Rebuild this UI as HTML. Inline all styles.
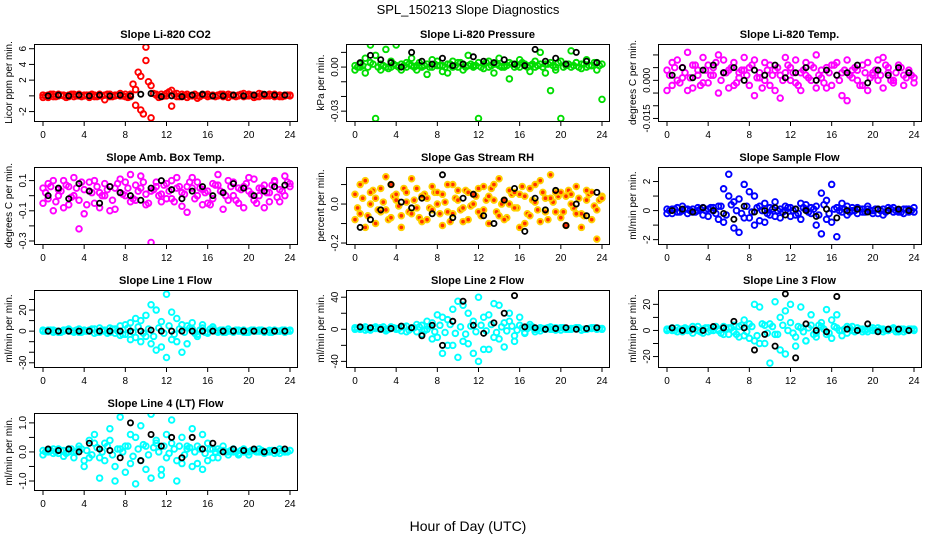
<!DOCTYPE html>
<html><head><meta charset="utf-8"><style>
html,body{margin:0;padding:0;background:#fff;}
svg{display:block;font-family:"Liberation Sans",Arial,sans-serif;}
</style></head><body>
<svg id="chart" width="936" height="540" viewBox="0 0 936 540" xmlns="http://www.w3.org/2000/svg">
<text x="468" y="14" font-size="13" text-anchor="middle">SPL_150213  Slope Diagnostics</text>
<text x="468" y="531" font-size="14" text-anchor="middle">Hour of Day (UTC)</text>
</svg>
<script>
const hours = [0,0.5,1,1.5,2,2.5,3,3.5,4,4.5,5,5.5,6,6.5,7,7.5,8,8.5,9,9.5,10,10.5,11,11.5,12,12.5,13,13.5,14,14.5,15,15.5,16,16.5,17,17.5,18,18.5,19,19.5,20,20.5,21,21.5,22,22.5,23,23.5,24];
const bandHours = [0.25,0.75,1.25,1.75,2.25,2.75,3.25,3.75,4.25,4.75,5.25,5.75,6.25,6.75,7.25,7.75,8.25,8.75,9.25,9.75,10.25,10.75,11.25,11.75,12.25,12.75,13.25,13.75,14.25,14.75,15.25,15.75,16.25,16.75,17.25,17.75,18.25,18.75,19.25,19.75,20.25,20.75,21.25,21.75,22.25,22.75,23.25,23.75];
const blackHours = [0.5,1.5,2.5,3.5,4.5,5.5,6.5,7.5,8.5,9.5,10.5,11.5,12.5,13.5,14.5,15.5,16.5,17.5,18.5,19.5,20.5,21.5,22.5,23.5];
const xTicks = [0,4,8,12,16,20,24];
const titles = ["Slope Li-820 CO2","Slope Li-820 Pressure","Slope Li-820 Temp.","Slope Amb. Box Temp.","Slope Gas Stream RH","Slope Sample Flow","Slope Line 1 Flow","Slope Line 2 Flow","Slope Line 3 Flow","Slope Line 4 (LT) Flow"];
const yTitles = ["Licor ppm per min.","kPa per min.","degrees C per min.","degrees C per min.","percent per min.","ml/min per min.","ml/min per min.","ml/min per min.","ml/min per min.","ml/min per min."];
const colors = ["#ff0000","#00dd00","#ff00ff","#ff00ff","#ffd000","#0000ff","#00ffff","#00ffff","#00ffff","#00ffff"];
const yRanges = [[-3.2,6.6],[-0.0367,0.0157],[-0.016,0.0143],[-0.32,0.19],[-0.205,0.19],[-2.3,3.0],[-34,39],[-47,49],[-28,31],[-1.31,1.34]];
const yTicks = [[-2,0,2,4,6],[-0.03,-0.02,-0.01,0,0.01],[-0.015,-0.01,-0.005,0,0.005,0.01],[-0.3,-0.2,-0.1,0,0.1],[-0.2,-0.1,0,0.1],[-2,-1,0,1,2],[-30,-20,-10,0,10,20,30],[-40,-20,0,20,40],[-20,-10,0,10,20],[-1,-0.5,0,0.5,1]];
const yTickLabels = [["-2","","2","4","6"],["-0.03","","","0.00",""],["-0.015","","","0.000","",""],["-0.3","","-0.1","","0.1"],["-0.2","","0.0",""],["-2","","0","","2"],["-30","","","0","","20",""],["-40","","0","","40"],["-20","","0","","20"],["-1.0","","0.0","","1.0"]];

const seriesA1=[0.1,-0.2,0.2,0,0.1,-0.1,0.2,0,0.1,-0.2,0.1,0,-0.5,0.2,0.1,0,0.2,-0.1,0.8,2.5,6.2,1.3,0.1,0.2,0,0.7,0.3,-0.1,0.2,0,-0.3,0.1,0.2,0,0.1,-0.1,0.2,0,0.1,0.3,0,-0.2,0.3,0.1,0,0.2,-0.1,0.1,0];
const seriesB1=[-0.2,0.1,-0.1,0.2,0,0.1,-0.1,0.2,0,0.1,-0.1,0.2,0.1,-0.1,0,0.3,-0.1,0.2,-1.2,-1.8,4.5,-2.8,0.2,-0.1,0.3,-1.3,-0.1,0.2,-0.2,0.1,0,0.2,-0.1,0.1,0,0.2,-0.2,0.1,0,-0.1,0.2,0.1,-0.1,0,0.2,-0.1,0.1,0,0.1];
const seriesC1=[0,0.2,-0.1,0.1,-0.2,0.2,0,-0.1,0.1,0.2,-0.1,0,0.2,-0.1,0.1,0,-0.2,1.5,3.0,-2.3,1.8,0.3,-0.2,0,0.5,0.2,-0.1,0.1,0,0.2,-0.1,0.1,0,-0.1,0.2,0,0.1,-0.1,0.2,0,0.1,-0.1,0.2,0,0.1,0,-0.1,0.1];
const seriesK1=[0,0.1,0,0.1,0,0.1,0,0.1,0,0.2,0.3,-0.1,0,-0.1,0.1,0.2,0,0,0.1,0,0.1,0.2,0.1,0.1];
const seriesA2=[0.001,0.002,-0.004,0.003,0.008,0.002,0.0,0.004,0.001,-0.002,0.003,0.006,0.001,0.0,0.002,0.005,0.001,-0.003,0.002,0.004,0.0,0.002,0.008,0.001,0.003,-0.001,0.004,0.002,0.006,0.001,0.003,0.0,0.005,0.002,0.001,0.004,0.010,0.002,0.003,-0.002,0.004,0.001,0.011,0.003,0.002,0.005,0.001,0.003,0.002];
const seriesB2=[-0.002,0.0,0.006,0.015,-0.035,-0.002,0.012,0.0,0.015,0.002,0.0,0.001,-0.002,0.001,-0.005,0.0,0.004,0.001,-0.004,0.0,0.003,-0.002,0.001,0.0,-0.035,0.002,0.0,-0.004,0.001,0.0,-0.008,0.002,0.0,0.001,-0.003,0.0,0.002,-0.004,-0.016,0.0,-0.035,0.002,0.0,0.003,-0.001,0.0,0.001,-0.002,-0.022];
const seriesC2=[0.0,0.001,0.0,0.002,0.0,0.001,-0.001,0.002,0.0,0.001,0.002,0.0,0.003,0.001,0.0,0.002,0.001,0.0,0.002,0.001,0.003,0.0,0.002,0.001,0.0,0.003,0.001,0.002,0.0,0.001,0.002,0.001,0.003,0.0,0.002,0.001,0.0,0.002,0.001,0.003,0.0,0.002,0.001,0.0,0.002,0.001,0.003,0.001];
const seriesK2=[0.003,0.008,0.005,0.003,0.0,0.010,0.004,0.002,0.006,0.001,0.002,0.007,0.004,0.003,0.005,0.002,0.001,0.012,0.004,0.006,0.002,0.010,0.004,0.003];
const seriesA3=[0.004,-0.002,0.008,0.001,-0.004,0.006,0.002,0.009,-0.001,0.005,0.010,0.003,-0.003,0.007,0.001,0.004,-0.002,0.008,0.003,0.000,0.006,-0.004,0.002,0.009,0.005,-0.001,0.003,0.007,0.000,0.010,0.004,-0.003,0.006,0.002,-0.006,0.008,0.001,0.004,-0.002,0.007,0.003,0.000,0.009,0.005,-0.001,0.006,0.002,0.004,0.001];
const seriesB3=[-0.004,0.007,0.000,0.005,0.011,-0.003,0.004,-0.001,0.006,0.002,-0.005,0.008,0.004,-0.002,0.003,0.009,0.005,-0.006,0.001,0.007,-0.002,0.004,-0.007,0.003,0.000,0.008,-0.004,0.002,0.006,-0.003,0.001,0.005,-0.002,0.007,0.003,-0.008,0.004,0.000,0.006,-0.004,0.002,0.008,-0.003,0.003,0.000,0.006,-0.002,0.003,-0.001];
const seriesC3=[0.002,0.005,-0.001,0.003,0.001,0.006,-0.002,0.004,0.002,0.007,0.000,0.003,0.005,-0.001,0.004,0.002,0.006,0.001,-0.003,0.004,0.002,0.005,0.000,0.006,0.003,-0.002,0.004,0.001,0.005,0.002,-0.001,0.003,0.006,0.000,0.004,0.002,0.005,-0.002,0.003,0.001,0.004,0.002,0.006,0.000,0.003,0.005,0.001,0.002];
const seriesK3=[0.002,0.005,0.001,0.004,0.006,0.003,0.005,0.000,0.004,0.002,0.006,0.001,0.003,0.005,0.000,0.004,0.002,0.003,0.006,-0.001,0.004,0.002,0.005,0.003];
const seriesA4=[0.05,-0.02,0.1,0.0,-0.08,0.06,0.12,-0.03,0.04,0.09,-0.05,0.02,0.08,-0.1,0.05,0.11,0.0,-0.04,0.07,0.13,-0.06,0.03,0.09,0.01,-0.02,0.1,0.05,-0.07,0.06,0.12,0.0,0.04,-0.05,0.08,0.14,0.02,-0.03,0.09,0.05,-0.08,0.03,0.11,0.0,0.07,-0.04,0.1,0.04,0.13,0.06];
const seriesB4=[-0.05,0.08,-0.1,0.04,0.1,-0.06,0.0,-0.22,-0.12,0.03,0.1,-0.08,0.0,0.06,-0.09,0.02,0.09,0.14,-0.03,0.05,0.01,-0.31,0.06,-0.04,0.08,-0.02,0.12,0.02,-0.11,0.05,0.09,-0.06,0.03,-0.02,0.07,-0.09,0.1,0.0,-0.05,0.06,0.12,-0.03,0.05,-0.08,0.02,0.09,-0.04,0.0,0.08];
const seriesC4=[0.02,0.06,-0.04,0.03,0.07,-0.01,0.05,0.09,-0.06,0.02,0.06,0.0,0.04,-0.03,0.08,0.01,0.05,-0.02,0.03,0.09,-0.05,0.04,0.0,0.07,0.03,-0.04,0.06,0.01,0.09,-0.02,0.05,0.02,-0.06,0.07,0.03,0.0,0.06,-0.03,0.04,0.08,0.01,-0.05,0.05,0.02,0.07,-0.01,0.03,0.09];
const seriesK4=[0.0,0.05,-0.02,0.08,0.03,-0.05,0.06,0.02,0.0,-0.03,0.05,0.1,0.04,-0.02,0.03,0.06,0.0,0.02,0.08,0.05,0.0,0.03,0.06,0.07];
const seriesA5=[0.05,-0.05,0.12,0.0,-0.1,0.08,-0.03,0.1,0.02,-0.06,0.06,0.13,-0.02,0.04,-0.08,0.09,0.0,0.05,-0.04,0.1,0.02,-0.09,0.06,0.0,0.08,-0.03,0.04,0.1,-0.06,0.02,0.07,-0.02,0.05,-0.1,0.08,0.01,0.12,-0.04,0.03,0.06,-0.07,0.04,0.0,0.09,-0.05,0.02,0.06,-0.03,0.04];
const seriesB5=[-0.08,0.1,-0.12,0.06,0.03,-0.04,0.14,-0.07,0.05,-0.12,0.01,-0.05,0.08,-0.09,0.03,-0.03,0.06,-0.11,0.1,-0.05,0.07,-0.02,-0.08,0.05,-0.04,0.09,-0.1,0.02,0.13,-0.08,0.0,0.06,-0.12,0.04,-0.06,0.1,-0.09,0.03,0.15,-0.04,0.06,-0.11,0.05,-0.05,-0.12,0.07,-0.08,-0.18,0.03];
const seriesC5=[-0.02,0.03,-0.06,0.07,-0.03,0.01,-0.08,0.04,-0.01,0.08,-0.04,0.02,-0.07,0.05,-0.02,0.06,-0.05,0.01,-0.09,0.03,-0.03,0.07,-0.01,0.04,-0.06,0.02,0.08,-0.04,0.0,-0.07,0.05,-0.02,0.09,-0.05,0.02,-0.03,0.06,-0.08,0.01,0.04,-0.04,0.07,-0.02,0.03,-0.06,0.05,-0.01,0.02];
const seriesK5=[-0.12,-0.08,-0.03,0.1,0.01,-0.02,0.03,-0.05,0.15,-0.07,0.03,0.05,-0.06,-0.1,0.02,0.08,-0.14,0.03,-0.03,0.07,-0.11,0.0,-0.06,0.06];
const seriesA6=[0.1,-0.2,0.2,0.0,0.1,-0.1,0.2,-0.3,0.1,0.0,0.3,1.5,2.5,-1.2,0.8,1.8,-0.5,1.0,0.3,-0.8,0.2,-0.4,0.1,0.0,0.2,-0.3,0.5,0.1,-0.2,0.3,1.2,-0.6,1.8,0.2,-0.1,0.3,0.0,0.2,-0.1,0.1,0.0,-0.2,0.1,0.2,-0.1,0.0,0.1,-0.1,0.2];
const seriesB6=[-0.2,0.1,-0.1,0.3,-0.2,0.1,0.0,0.2,-0.4,0.2,-0.6,-0.8,1.0,0.6,-1.5,-0.5,1.3,-1.0,-0.7,0.5,-0.3,0.6,-0.5,0.3,-0.4,0.1,-0.6,0.4,0.2,-1.0,-1.6,0.7,-0.8,-1.8,0.5,-0.3,0.2,-0.2,0.1,0.3,-0.2,0.1,-0.3,0.0,0.2,-0.1,-0.2,0.1,-0.1];
const seriesC6=[0.0,0.1,-0.1,0.1,0.0,-0.1,0.1,0.0,0.2,-0.2,0.3,-0.3,0.4,0.0,-0.2,0.3,-0.1,0.2,0.0,-0.2,0.1,0.0,-0.1,0.2,0.0,-0.2,0.2,-0.1,0.1,-0.3,0.4,-0.2,0.1,0.0,0.1,-0.1,0.0,0.1,-0.1,0.0,0.1,0.0,-0.1,0.1,0.0,-0.1,0.1,0.0];
const seriesK6=[0.0,0.1,-0.1,0.2,0.0,-0.2,-0.6,0.3,-0.1,0.0,0.2,-0.3,0.1,0.0,-0.4,0.1,-0.5,0.0,0.1,-0.1,0.1,0.0,0.1,0.0];
const seriesA7=[0,1,-1,0,1,0,-1,2,0,1,-2,3,0,-1,2,5,-3,8,-6,10,15,-12,20,-15,35,-8,12,-20,5,8,-5,3,-2,4,0,-1,2,0,1,-1,0,1,0,-1,1,0,0,1,0];
const seriesB7=[1,0,1,-1,0,2,0,-1,1,0,2,-1,1,3,-2,-4,6,-8,12,-10,-5,25,-18,9,-25,18,-10,6,-12,2,-3,6,-1,2,-1,1,0,-1,0,1,-1,0,1,0,-1,1,0,-1,1];
const seriesC7=[0,1,0,-1,1,0,1,-1,0,2,-1,1,-2,2,0,-3,3,-1,4,-2,2,-5,3,-2,5,-3,2,-1,3,-2,1,-1,2,0,1,-1,0,1,0,-1,1,0,1,0,-1,0,1,0];
const seriesK7=[0,0,0,0,0,0,0,0,0,0,1,0,0,0,0,0,0,0,0,0,0,0,0,0];
const seriesA8=[2,0,3,-1,1,2,0,3,1,-2,4,2,-3,5,0,8,-10,15,-20,25,35,-15,20,-30,40,-25,18,-10,30,-22,10,-8,15,-5,6,-3,2,0,3,-1,2,0,1,2,-1,0,2,1,0];
const seriesB8=[0,2,-1,1,3,0,-2,1,0,3,-3,1,6,-6,10,-12,18,-30,12,-20,-35,30,-18,10,-40,15,-25,32,-12,8,20,-15,5,-4,3,0,-2,1,0,2,-1,1,0,2,-1,0,1,0,1];
const seriesC8=[1,2,0,2,1,3,0,2,1,3,-1,2,3,-2,4,-3,5,-4,6,-5,3,-6,4,-3,5,-2,6,-4,3,-2,4,-1,2,1,3,0,1,2,0,1,2,0,1,2,0,1,2,1];
const seriesK8=[3,2,0,1,4,2,-8,5,-20,10,35,5,-5,8,20,42,3,2,0,1,2,0,1,2];
const seriesA9=[1,0,2,-1,1,3,0,-2,2,0,1,3,-3,4,-5,8,-6,20,18,-10,5,22,-15,15,20,-12,18,-8,12,-5,6,-3,8,12,-4,3,0,2,1,-1,2,0,1,0,2,-1,1,0,1];
const seriesB9=[0,2,-1,1,0,-2,3,1,-1,2,0,-3,2,-1,3,-4,5,-8,-10,4,-25,-3,10,-18,6,-5,2,-8,4,-2,3,16,-6,2,0,-2,3,0,-1,1,0,2,-1,0,1,0,-1,1,0];
const seriesC9=[1,0,1,2,0,1,-1,2,0,3,-2,1,2,-3,4,-1,3,-4,5,-2,3,-3,4,0,-2,3,-1,2,-3,4,1,-2,3,0,1,2,-1,1,0,2,0,1,0,1,-1,1,0,1];
const seriesK9=[2,0,1,0,3,2,7,2,-15,-3,-12,28,-21,5,0,-1,26,1,0,5,-1,1,1,0];
const seriesA10=[0.05,0.0,0.1,-0.05,0.05,0.1,0.0,0.2,-0.3,0.4,0.6,-0.2,0.3,0.8,-0.5,1.2,0.2,-0.4,0.5,0.9,-0.6,1.3,0.3,-0.8,0.6,1.1,-0.3,0.5,0.2,0.8,-0.4,0.6,0.3,-0.2,0.1,0.2,0.0,0.1,-0.1,0.1,0.0,0.05,0.1,0.0,0.05,-0.05,0.1,0.0,0.05];
const seriesB10=[-0.1,0.05,-0.05,0.1,-0.15,0.0,-0.2,0.1,-0.5,-0.2,0.3,-0.9,-0.3,0.4,-1.0,0.1,-0.7,0.6,-1.1,-0.3,0.2,-0.9,0.4,-0.6,-0.2,0.3,-1.0,-0.4,0.1,-0.5,0.2,-0.6,-0.3,0.1,-0.2,0.05,-0.1,0.0,-0.05,0.0,-0.1,0.05,0.0,-0.05,0.0,0.05,-0.05,0.0,0.05];
const seriesC10=[0.0,0.05,0.0,0.05,-0.05,0.1,0.0,0.1,0.05,-0.1,0.15,0.0,0.2,-0.1,0.1,0.0,0.2,-0.15,0.1,0.25,-0.1,0.15,0.0,0.2,-0.05,0.1,0.2,-0.1,0.15,0.0,0.1,-0.05,0.1,0.0,0.05,0.0,0.05,0.0,0.05,0.0,0.05,0.0,0.05,0.0,0.05,0.0,0.05,0.0];
const seriesK10=[0.1,0.05,0.1,0.0,0.3,0.1,0.05,-0.2,1.0,-0.3,0.6,0.2,0.5,-0.2,0.5,0.1,0.3,0.0,0.1,0.05,0.1,0.0,0.05,0.1];

const colA=[seriesA1,seriesA2,seriesA3,seriesA4,seriesA5,seriesA6,seriesA7,seriesA8,seriesA9,seriesA10];
const colB=[seriesB1,seriesB2,seriesB3,seriesB4,seriesB5,seriesB6,seriesB7,seriesB8,seriesB9,seriesB10];
const colC=[seriesC1,seriesC2,seriesC3,seriesC4,seriesC5,seriesC6,seriesC7,seriesC8,seriesC9,seriesC10];
const blk=[seriesK1,seriesK2,seriesK3,seriesK4,seriesK5,seriesK6,seriesK7,seriesK8,seriesK9,seriesK10];

const svg=document.getElementById('chart');
const NS='http://www.w3.org/2000/svg';
function mk(tag,attrs,parent){const e=document.createElementNS(NS,tag);for(const k in attrs)e.setAttribute(k,attrs[k]);(parent||svg).appendChild(e);return e;}
const colX=[34,346,658], rowY=[44,167,290,413], PW=263, PH=77;

for(let p=0;p<10;p++){
  const x0=colX[p%3], y0=rowY[Math.floor(p/3)];
  const g=mk('g',{});
  
  
  const xs=h=>x0+9+h*(247/24);
  const [lo,hi]=yRanges[p];
  const ys=v=>y0+PH-(v-lo)/(hi-lo)*PH;
  const clip=mk('clipPath',{id:'c'+p},g);
  mk('rect',{x:x0,y:y0,width:PW,height:PH},clip);
  const pts=mk('g',{'clip-path':'url(#c'+p+')'},g);
  
  
  const col=colors[p];
  const isRH=p===4;
  const drawCol=(arr,hs)=>{
    arr.forEach((v,i)=>{
      const c=mk('circle',{cx:xs(hs[i]),cy:ys(v),r:2.8,fill:isRH?'#ff3000':'none',stroke:col,'stroke-width':1.9},pts);
      
      
    });
  };
  drawCol(colC[p],bandHours);
  drawCol(colA[p],hours);
  drawCol(colB[p],hours);
  blk[p].forEach((v,i)=>{
    const c=mk('circle',{cx:xs(blackHours[i]),cy:ys(v),r:2.6,fill:'none',stroke:'#000','stroke-width':1.8},pts);
    
    
  });
  const box=mk('rect',{x:x0+0.5,y:y0+0.5,width:PW,height:PH,fill:'none',stroke:'#000','stroke-width':1},g);
  
  
  const t=mk('text',{x:x0+PW/2,y:y0-6,'font-size':11,'font-weight':'bold','text-anchor':'middle'},g);
  t.textContent=titles[p];
  
  
  xTicks.forEach(h=>{
    mk('line',{x1:xs(h),x2:xs(h),y1:y0+PH,y2:y0+PH+5,stroke:'#000'},g);
    const l=mk('text',{x:xs(h),y:y0+PH+17,'font-size':10,'text-anchor':'middle'},g);
    l.textContent=h;
    
    
  });
  yTicks[p].forEach((v,i)=>{
    const y=ys(v);
    mk('line',{x1:x0,x2:x0-5,y1:y,y2:y,stroke:'#000'},g);
    const l=mk('text',{x:x0-8,y:y,'font-size':10,'text-anchor':'middle',transform:'rotate(-90 '+(x0-8)+' '+y+')'},g);
    l.textContent=yTickLabels[p][i];
    
    
  });
  const yt=mk('text',{x:x0-22,y:y0+PH/2,'font-size':10,'text-anchor':'middle',transform:'rotate(-90 '+(x0-22)+' '+(y0+PH/2)+')'},g);
  yt.textContent=yTitles[p];
  
  
}
</script>
</body></html>
